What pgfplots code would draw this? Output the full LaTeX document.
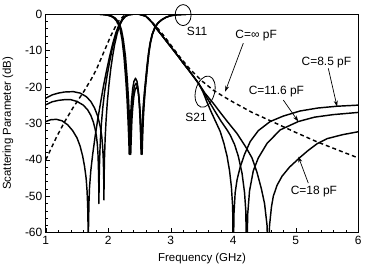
\documentclass[border=0pt]{standalone}
\usepackage{pgfplots}
\pgfplotsset{compat=1.18}
\usepackage{fontspec}
\setmainfont{Liberation Sans}
\usetikzlibrary{arrows.meta,calc}
\tikzset{curve/.style={black, line width=1.45pt, line join=round, mark=none, solid}}
\begin{document}
\begin{tikzpicture}
\begin{axis}[name=ax, scale only axis, width=312.5bp, height=218.7bp,
  xmin=1, xmax=6, ymin=-60, ymax=0,
  xtick={1,2,3,4,5,6}, ytick={-60,-50,-40,-30,-20,-10,0},
  minor x tick num=4, minor y tick num=4,
  tick align=inside, xtick pos=bottom, ytick pos=left,
  major tick length=4.5bp, minor tick length=2.5bp,
  tick style={black, line width=0.6pt},
  axis line style={line width=0.8pt},
  ticklabel style={font=\fontsize{12}{12}\selectfont},
  /pgf/number format/assume math mode=true,
  xlabel={Frequency (GHz)}, ylabel={Scattering Parameter (dB)},
  label style={font=\fontsize{11.5}{12}\selectfont},
  xlabel style={at={(axis description cs:0.5,-0.117)}, anchor=center},
  ylabel style={at={(axis description cs:-0.1216,0.5)}, anchor=center},
]
% dashed C = infinity
\addplot[curve, dash pattern=on 4bp off 3bp] coordinates {
(1.0,-40) (1.17,-33.8) (1.3,-29.6) (1.44,-25.6) (1.6,-21.5) (1.73,-17.8) (1.81,-15.2) (1.89,-12) (1.97,-8.8) (2.04,-6) (2.11,-3.6) (2.18,-1.6) (2.25,-0.5) (2.32,-0.1) (2.45,0) (2.55,-0.2) (2.62,-0.8) (2.7,-2.2) (2.8,-4.1) (2.9,-6.2) (3.0,-8.5) (3.14,-11.7) (3.3,-15) (3.5,-18.4) (3.68,-20.9) (3.84,-22.6) (4.0,-24.2) (4.3,-27) (4.62,-29.5) (5.0,-32.5) (5.33,-35) (5.67,-37.3) (6.0,-39.5)};
% S21, C = 18 pF
\addplot[curve] coordinates {
(1.0,-29.5) (1.08,-29.0) (1.17,-28.9) (1.26,-29.3) (1.35,-30.4) (1.43,-32) (1.5,-34) (1.55,-36.3) (1.59,-39) (1.62,-41.8) (1.645,-45) (1.66,-48.5) (1.67,-52.5) (1.678,-60) (1.68,-70) (1.682,-60) (1.69,-52) (1.7,-47.5) (1.72,-43) (1.75,-38.5) (1.79,-33.5) (1.83,-29) (1.87,-25) (1.92,-20) (1.97,-15.7) (2.02,-11.7) (2.07,-8.2) (2.12,-5.2) (2.17,-3.0) (2.22,-1.5) (2.27,-0.6) (2.33,-0.2) (2.4,-0.05) (2.45,0) (2.5,-0.1) (2.6,-0.6) (2.7,-2.3) (2.78,-4.2) (2.9,-6.8) (3.0,-9.0) (3.1,-11.2) (3.2,-13.5) (3.3,-15.7) (3.4,-18) (3.45,-19.2) (3.55,-21.8) (3.68,-24.5) (3.8,-27.2) (3.9,-29.4) (4.06,-32.8) (4.2,-36.5) (4.3,-39.5) (4.38,-43.5) (4.45,-48) (4.5,-52) (4.54,-58) (4.56,-70) (4.58,-58) (4.61,-53) (4.64,-50) (4.7,-47) (4.78,-44.5) (4.9,-42) (5.07,-39.3) (5.2,-37.4) (5.34,-35.6) (5.5,-34.2) (5.75,-33.1) (6.0,-32.3)};
% S21, C = 11.6 pF
\addplot[curve] coordinates {
(1.0,-24.9) (1.1,-24.1) (1.2,-23.7) (1.3,-23.5) (1.4,-23.5) (1.5,-24.0) (1.6,-25.0) (1.67,-26.3) (1.72,-27.8) (1.76,-29.6) (1.79,-31.6) (1.81,-33.5) (1.825,-35.8) (1.835,-38.5) (1.842,-42) (1.847,-46.5) (1.85,-52) (1.853,-46.5) (1.858,-42) (1.865,-38) (1.875,-34) (1.89,-30) (1.91,-26) (1.94,-21.5) (1.98,-17) (2.02,-13.2) (2.06,-9.8) (2.1,-7.0) (2.14,-4.7) (2.18,-3.0) (2.22,-1.7) (2.27,-0.7) (2.33,-0.2) (2.4,-0.05) (2.45,0) (2.5,-0.1) (2.6,-0.6) (2.7,-2.3) (2.78,-4.2) (2.9,-6.8) (3.0,-9.0) (3.1,-11.2) (3.2,-13.5) (3.3,-15.7) (3.4,-18) (3.45,-19.2) (3.53,-21.6) (3.63,-24.5) (3.7,-26.5) (3.8,-29.3) (3.9,-31.8) (3.95,-33.2) (4.02,-35.8) (4.08,-39) (4.14,-43.7) (4.18,-49) (4.2,-54) (4.215,-70) (4.23,-55) (4.26,-48.5) (4.32,-43) (4.4,-39.5) (4.54,-35.5) (4.75,-31.8) (5.04,-29.5) (5.3,-28.3) (5.6,-27.6) (6.0,-27.0)};
% S21, C = 8.5 pF
\addplot[curve] coordinates {
(1.0,-23.1) (1.1,-22.2) (1.2,-21.7) (1.3,-21.4) (1.44,-21.3) (1.55,-21.7) (1.65,-22.7) (1.72,-24) (1.78,-25.8) (1.83,-28) (1.87,-30.8) (1.895,-33.5) (1.91,-36.5) (1.92,-40) (1.926,-44) (1.93,-51) (1.934,-44) (1.94,-39) (1.95,-34) (1.965,-29) (1.985,-24) (2.01,-19.5) (2.04,-15) (2.07,-11.5) (2.1,-8.5) (2.14,-5.5) (2.18,-3.2) (2.22,-1.8) (2.27,-0.7) (2.33,-0.2) (2.4,-0.05) (2.45,0) (2.5,-0.1) (2.6,-0.6) (2.7,-2.3) (2.78,-4.2) (2.9,-6.8) (3.0,-9.0) (3.1,-11.2) (3.2,-13.5) (3.3,-15.7) (3.4,-18) (3.45,-19.2) (3.52,-21.6) (3.58,-24.2) (3.65,-27) (3.72,-29.6) (3.79,-32.2) (3.85,-35.5) (3.9,-39) (3.94,-43) (3.97,-47.5) (3.99,-53) (4.0,-70) (4.01,-55) (4.03,-49) (4.06,-45.5) (4.11,-42) (4.18,-38.5) (4.27,-35) (4.4,-32) (4.59,-29.5) (4.8,-28) (5.07,-26.6) (5.35,-25.8) (5.66,-25.3) (6.0,-25.0)};
% S11 curves
\addplot[curve] coordinates {
(1,0) (1.8,-0.03) (1.9,-0.1) (1.98,-0.3) (2.04,-0.6) (2.09,-1.1) (2.13,-1.9) (2.16,-2.8) (2.19,-4.3) (2.22,-7) (2.25,-11.5) (2.28,-18) (2.3,-23.5) (2.315,-29) (2.327,-34) (2.335,-38.5) (2.343,-34) (2.355,-28.5) (2.37,-24) (2.39,-20.5) (2.41,-18.5) (2.435,-17.6) (2.46,-18.5) (2.48,-21) (2.495,-24.5) (2.508,-29) (2.518,-34) (2.525,-38.5) (2.533,-34) (2.545,-29) (2.56,-25) (2.58,-21) (2.6,-17.5) (2.62,-14) (2.645,-10.5) (2.67,-7.8) (2.7,-5.6) (2.74,-3.8) (2.79,-2.5) (2.85,-1.6) (2.92,-0.9) (3.0,-0.45) (3.1,-0.2) (3.25,-0.07) (3.5,-0.02) (6,0)};
\addplot[curve] coordinates {
(1,0) (1.8,-0.03) (1.9,-0.1) (1.99,-0.3) (2.05,-0.6) (2.1,-1.1) (2.14,-1.9) (2.17,-2.8) (2.2,-4.3) (2.23,-7) (2.262,-11.5) (2.292,-18) (2.312,-23.5) (2.327,-29) (2.339,-34) (2.347,-38.5) (2.355,-34) (2.366,-29) (2.38,-25) (2.4,-21.5) (2.42,-19.7) (2.445,-19.0) (2.468,-19.9) (2.487,-22.5) (2.503,-26) (2.515,-30) (2.525,-34.5) (2.533,-38.5) (2.541,-34) (2.552,-29) (2.566,-25) (2.585,-21) (2.605,-17.5) (2.625,-14) (2.648,-10.5) (2.673,-7.8) (2.703,-5.6) (2.743,-3.8) (2.793,-2.5) (2.853,-1.6) (2.923,-0.9) (3.0,-0.45) (3.1,-0.2) (3.25,-0.07) (3.5,-0.02) (6,0)};
\addplot[curve] coordinates {
(1,0) (1.8,-0.03) (1.9,-0.1) (2.0,-0.3) (2.06,-0.6) (2.11,-1.1) (2.15,-1.9) (2.18,-2.8) (2.21,-4.3) (2.24,-7) (2.274,-11.5) (2.304,-18) (2.324,-23.5) (2.339,-29) (2.351,-34) (2.359,-38.5) (2.367,-34) (2.378,-29) (2.392,-25.5) (2.41,-22.5) (2.43,-20.7) (2.455,-20) (2.477,-21) (2.495,-23.5) (2.51,-27) (2.522,-31) (2.532,-35) (2.541,-38.5) (2.549,-34) (2.56,-29) (2.573,-25) (2.59,-21) (2.61,-17.5) (2.63,-14) (2.652,-10.5) (2.677,-7.8) (2.707,-5.6) (2.747,-3.8) (2.797,-2.5) (2.857,-1.6) (2.927,-0.9) (3.0,-0.45) (3.1,-0.2) (3.25,-0.07) (3.5,-0.02) (6,0)};
% annotation anchor coordinates
\coordinate (e11) at (axis cs:3.197,-0.3);
\coordinate (t11) at (axis cs:3.42,-4.9);
\coordinate (e21) at (axis cs:3.549,-21.3);
\coordinate (t21) at (axis cs:3.405,-28.5);
\coordinate (tinf) at (axis cs:4.366,-5.8);
\coordinate (ainf1) at (axis cs:4.16,-8.0);
\coordinate (ainf2) at (axis cs:3.87,-21.3);
\coordinate (t85) at (axis cs:5.49,-13.2);
\coordinate (a851) at (axis cs:5.52,-14.9);
\coordinate (a852) at (axis cs:5.66,-25.4);
\coordinate (t116) at (axis cs:4.69,-21.4);
\coordinate (a1161) at (axis cs:4.80,-23.6);
\coordinate (a1162) at (axis cs:5.04,-29.5);
\coordinate (t18) at (axis cs:5.29,-48.8);
\coordinate (a181) at (axis cs:5.2,-46.4);
\coordinate (a182) at (axis cs:5.04,-39.1);
\end{axis}
\begin{scope}[line width=0.8pt]
\draw (e11) ellipse [x radius=8bp, y radius=10.5bp];
\draw[rotate around={-15:(e21)}] (e21) ellipse [x radius=9.5bp, y radius=16bp];
\end{scope}
\begin{scope}[font=\fontsize{12}{12}\selectfont, inner sep=0pt]
\node at (t11) {S11};
\node at (t21) {S21};
\node at (tinf) {C=∞ pF};
\node at (t85) {C=8.5 pF};
\node at (t116) {C=11.6 pF};
\node at (t18) {C=18 pF};
\end{scope}
\begin{scope}[line width=0.7pt, -{Stealth[length=6bp,width=4bp]}]
\draw (ainf1) -- (ainf2);
\draw (a851) -- (a852);
\draw (a1161) -- (a1162);
\draw (a181) -- (a182);
\end{scope}
\pgfresetboundingbox
\path[use as bounding box] ($(ax.south west)+(-45.8bp,-32.3bp)$) rectangle ($(ax.north east)+(6.7bp,14bp)$);
\end{tikzpicture}
\end{document}
